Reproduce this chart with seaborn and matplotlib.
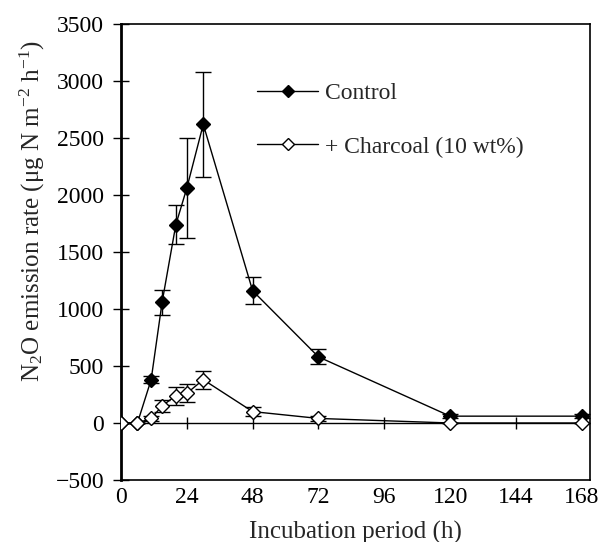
import numpy as np
import pandas as pd
import matplotlib as mpl
mpl.use("Agg")
import matplotlib.pyplot as plt
import seaborn as sns

# incubation times (h)
hours = [0, 6, 11, 15, 20, 24, 30, 48, 72, 120, 168]
# N2O emission rate, control
control = [0, 0, 380, 1060, 1740, 2060, 2620, 1160, 580, 60, 60]
control_err = [0, 0, 30, 110, 170, 440, 460, 120, 65, 20, 20]
# N2O emission rate, + charcoal
charcoal = [0, 0, 40, 150, 240, 260, 380, 100, 40, 0, 0]
charcoal_err = [0, 0, 20, 50, 80, 80, 80, 40, 20, 0, 0]

series_names = ["Control", "+ Charcoal (10 wt%)"]
xtick_vals = [0, 24, 48, 72, 96, 120, 144, 168]
ytick_vals = [-500, 0, 500, 1000, 1500, 2000, 2500, 3000, 3500]

df = pd.DataFrame({
    "hours": hours * 2,
    "rate": control + charcoal,
    "err": control_err + charcoal_err,
    "treatment": [series_names[0]] * len(hours) + [series_names[1]] * len(hours),
})

sns.set_theme(style="ticks")
plt.rcParams["font.family"] = ["Liberation Serif", "DejaVu Serif"]
plt.rcParams["mathtext.fontset"] = "custom"
plt.rcParams["mathtext.rm"] = "Liberation Serif"
plt.rcParams["mathtext.it"] = "Liberation Serif:italic"

fig = plt.figure(figsize=(6.07, 5.42), dpi=100)
ax = fig.add_axes([0.1993, 0.1144, 0.7727, 0.8413])

faces = {series_names[0]: "black", series_names[1]: "white"}
zorders = {series_names[0]: 3, series_names[1]: 4}
for name in series_names:
    sub = df[df["treatment"] == name]
    ax.errorbar(sub["hours"], sub["rate"], yerr=sub["err"], fmt="none",
                ecolor="black", elinewidth=1.0, capsize=6, capthick=1.0,
                zorder=zorders[name])
    sns.lineplot(data=sub, x="hours", y="rate", ax=ax, color="black",
                 linewidth=1.0, marker="D", markersize=7.5,
                 markerfacecolor=faces[name], markeredgecolor="black",
                 markeredgewidth=1.0, label=name, zorder=zorders[name] + 0.5,
                 errorbar=None, estimator=None)

# zero line with crossing ticks
ax.axhline(0, color="black", linewidth=1.0, zorder=2)
ax.vlines(xtick_vals[1:], -55, 55, color="black", linewidth=1.0, zorder=2)

ax.set_xlim(0, 171)
ax.set_ylim(-500, 3500)
ax.set_xticks(xtick_vals)
ax.set_yticks(ytick_vals)
ax.tick_params(axis="x", length=0, labelsize=17, pad=5, colors="black")
ax.tick_params(axis="y", direction="inout", length=12, width=1.0,
               labelsize=17, pad=6, colors="black")

for side in ["top", "right", "bottom"]:
    ax.spines[side].set_linewidth(1.2)
    ax.spines[side].set_color("black")
ax.spines["left"].set_linewidth(2.0)
ax.spines["left"].set_color("black")

ax.set_xlabel("Incubation period (h)", fontsize=18, labelpad=9)
ax.set_ylabel("N$_2$O emission rate (\u03bcg N m$^{-2}$ h$^{-1}$)",
              fontsize=18)
ax.yaxis.set_label_coords(-0.157, 0.59)

leg = ax.legend(loc="center left", bbox_to_anchor=(0.29, 0.789), frameon=False,
                fontsize=17, handlelength=2.6, labelspacing=1.35,
                handletextpad=0.3, borderpad=0, borderaxespad=0,
                markerscale=0.85)

fig.savefig("out.png", dpi=100)
